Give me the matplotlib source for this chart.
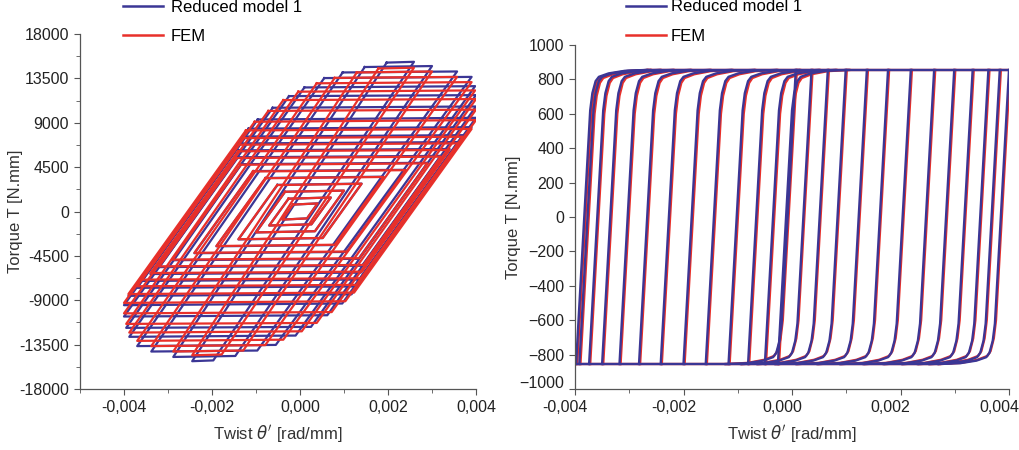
import numpy as np
import matplotlib.pyplot as plt
import matplotlib.transforms as mtransforms
from matplotlib.ticker import MultipleLocator, FixedLocator

plt.rcParams['font.family'] = ['Liberation Sans', 'DejaVu Sans']
plt.rcParams['mathtext.fontset'] = 'dejavusans'

blue = '#3b3695'
red = '#e8302a'

# --------------------------------------
# left panel : hysteresis loops
# each loop : top-left (tl), top-right (tr) corner, bottom-left twist (bl_x)
# bottom-right corner = -(tl), bottom-left torque = -(tr torque)
# --------------------------------------
blue_tl_x = [-0.00016, -0.00026, -0.00034, -0.00051, -0.00078, -0.00106, -0.00133, -0.00141, -0.00138, -0.00135,
             -0.00123, -0.00117, -0.00096, -0.00062, -0.00025, 0.00010, 0.00055, 0.00097, 0.00147, 0.00197]
blue_tl_T = [700, 1300, 2000, 2700, 3400, 4100, 4800, 5500, 6200, 6900,
             7600, 8400, 9330, 10520, 11700, 12580, 13530, 14100, 14650, 15100]
blue_tr_x = [0.00040, 0.00070, 0.00100, 0.00140, 0.00190, 0.00240, 0.00290, 0.00320, 0.00340, 0.00360,
             0.00370, 0.00390, 0.00400, 0.00400, 0.00400, 0.00398, 0.00390, 0.00357, 0.00300, 0.00259]
blue_tr_T = [820, 1420, 2120, 2830, 3530, 4230, 4940, 5640, 6340, 7040,
             7740, 8550, 9500, 10650, 11800, 12710, 13650, 14200, 14750, 15180]
blue_bl_x = [-0.00040, -0.00070, -0.00100, -0.00140, -0.00190, -0.00240, -0.00290, -0.00320, -0.00340, -0.00360,
             -0.00370, -0.00390, -0.00400, -0.00400, -0.00395, -0.00388, -0.00370, -0.00338, -0.00288, -0.00245]

red_tl_x = [-0.00016, -0.00026, -0.00034, -0.00052, -0.00079, -0.00107, -0.00135, -0.00144, -0.00141, -0.00139,
            -0.00128, -0.00123, -0.00103, -0.00072, -0.00038, -0.00004, 0.00038, 0.00079, 0.00129, 0.00178]
red_tl_T = [700, 1300, 2000, 2680, 3370, 4060, 4740, 5420, 6100, 6770,
            7440, 8220, 9100, 10200, 11300, 12150, 13000, 13550, 14100, 14500]
red_tr_x = [0.00040, 0.00070, 0.00100, 0.00140, 0.00190, 0.00240, 0.00290, 0.00320, 0.00340, 0.00360,
            0.00370, 0.00390, 0.00400, 0.00400, 0.00400, 0.00398, 0.00390, 0.00357, 0.00300, 0.00259]
red_tr_T = [820, 1420, 2120, 2810, 3500, 4190, 4880, 5560, 6240, 6910,
            7580, 8370, 9270, 10330, 11400, 12280, 13120, 13650, 14200, 14580]
red_bl_x = [-0.00040, -0.00070, -0.00100, -0.00140, -0.00190, -0.00240, -0.00290, -0.00320, -0.00340, -0.00360,
            -0.00370, -0.00390, -0.00400, -0.00400, -0.00395, -0.00388, -0.00370, -0.00338, -0.00288, -0.00245]

# --------------------------------------
# right panel : nearly rectangular loops
# --------------------------------------
T_sat = 855
# twist where the loading branches start (bottom, left half)
blue_up_x = [-0.00398, -0.00392, -0.00374, -0.00350, -0.00318, -0.00282, -0.00242,
             -0.00200, -0.00159, -0.00117, -0.00081, -0.00050, -0.00026]
# twist where the unloading branches start (top, right half)
blue_down_x = [0.00400, 0.00383, 0.00362, 0.00333, 0.00299, 0.00262, 0.00219,
               0.00177, 0.00138, 0.00099, 0.00066, 0.00036, 0.00007]
red_up_x = [-0.00396, -0.00390, -0.00372, -0.00348, -0.00316, -0.00280, -0.00240,
            -0.00198, -0.00157, -0.00115, -0.00079, -0.00048, -0.00024]
red_down_x = [0.00402, 0.00385, 0.00364, 0.00335, 0.00301, 0.00264, 0.00221,
              0.00179, 0.00140, 0.00101, 0.00068, 0.00038, 0.00009]
# shape of one branch (offset in twist vs torque)
knee_T = [-855, 620, 720, 790, 815, 835, 850, 855]
knee_dx = [0, 0.00026, 0.00030, 0.00036, 0.00042, 0.00060, 0.00090, 0.00130]
red_knee_T = [-855, 600, 705, 780, 808, 830, 848, 855]


def draw_loops(ax, tl_x, tl_T, tr_x, tr_T, bl_x, color):
    for i in range(len(tl_x)):
        xs = [tl_x[i], tr_x[i], -tl_x[i], bl_x[i], tl_x[i]]
        ys = [tl_T[i], tr_T[i], -tl_T[i], -tr_T[i], tl_T[i]]
        ax.plot(xs, ys, color=color, lw=1.6, solid_joinstyle='round')


def draw_branches(ax, up_x, down_x, kT, color):
    for x0 in up_x:
        ax.plot(x0 + np.array(knee_dx), kT, color=color, lw=1.7)
    for x0 in down_x:
        ax.plot(x0 - np.array(knee_dx), -np.array(kT), color=color, lw=1.7)
    # saturated plateaus
    ax.plot([up_x[0] + knee_dx[-1], down_x[0]], [T_sat, T_sat], color=color, lw=1.7)
    ax.plot([down_x[0] - knee_dx[-1], up_x[0]], [-T_sat, -T_sat], color=color, lw=1.7)


fig = plt.figure(figsize=(10.19, 4.5), dpi=100)
ax1 = fig.add_axes([80 / 1019, 1 - 389 / 450, 396 / 1019, 355 / 450])
ax2 = fig.add_axes([575 / 1019, 1 - 389 / 450, 434 / 1019, 344 / 450])

# left plot
draw_loops(ax1, blue_tl_x, blue_tl_T, blue_tr_x, blue_tr_T, blue_bl_x, blue)
draw_loops(ax1, red_tl_x, red_tl_T, red_tr_x, red_tr_T, red_bl_x, red)
ax1.set_xlim(-0.005, 0.004)
ax1.set_ylim(-18000, 18000)
y1_ticks = [-18000, -13500, -9000, -4500, 0, 4500, 9000, 13500, 18000]
ax1.yaxis.set_major_locator(FixedLocator(y1_ticks))
ax1.set_yticklabels([str(v) for v in y1_ticks])
ax1.yaxis.set_minor_locator(MultipleLocator(2250))
ax1.set_ylabel('Torque T [N.mm]', fontsize=12)
ax1.yaxis.set_label_coords(-0.145, 0.5)

# right plot
draw_branches(ax2, red_up_x, red_down_x, red_knee_T, red)
draw_branches(ax2, blue_up_x, blue_down_x, knee_T, blue)
ax2.set_xlim(-0.004, 0.004)
ax2.set_ylim(-1000, 1000)
y2_ticks = list(range(-1000, 1001, 200))
ax2.yaxis.set_major_locator(FixedLocator(y2_ticks))
ax2.set_yticklabels([str(v).replace('-', '\u2212') for v in y2_ticks])
ax2.set_ylabel('Torque T [N.mm]', fontsize=12)
ax2.yaxis.set_label_coords(-0.124, 0.5)

x_ticks = [-0.004, -0.002, 0.0, 0.002, 0.004]
x_labels = ['-0,004', '-0,002', '0,000', '0,002', '0,004']
for ax in (ax1, ax2):
    ax.xaxis.set_major_locator(FixedLocator(x_ticks))
    ax.set_xticklabels(x_labels)
    ax.xaxis.set_minor_locator(MultipleLocator(0.001))
    ax.spines['top'].set_visible(False)
    ax.spines['right'].set_visible(False)
    for s in ('left', 'bottom'):
        ax.spines[s].set_color('#555555')
        ax.spines[s].set_linewidth(0.9)
    ax.tick_params(which='both', direction='out', colors='#555555', labelcolor='#222222', labelsize=11.5)
    ax.tick_params(which='major', length=4, pad=4)
    ax.tick_params(which='minor', length=3)
    ax.set_xlabel("Twist $\\theta'$ [rad/mm]", fontsize=12, color='#333333', labelpad=6)
    ax.yaxis.label.set_color('#333333')
    ax.plot([], [], color=blue, lw=1.8, label='Reduced model 1')
    ax.plot([], [], color=red, lw=1.8, label='FEM')

# right panel tick labels sit a bit to the left in the original
shift = mtransforms.ScaledTranslation(-10 / 100, 0, fig.dpi_scale_trans)
for lab in ax2.get_xticklabels():
    lab.set_transform(lab.get_transform() + shift)
up = mtransforms.ScaledTranslation(0, 7 / 100, fig.dpi_scale_trans)
lab0 = ax2.get_yticklabels()[0]
lab0.set_transform(lab0.get_transform() + up)

ax1.legend(handles=ax1.lines[-2:], loc='upper left', bbox_to_anchor=(0.092, 1.115), frameon=False,
           fontsize=12, handlelength=2.4, handletextpad=0.45, labelspacing=0.85, borderaxespad=0)
ax2.legend(handles=ax2.lines[-2:], loc='upper left', bbox_to_anchor=(0.101, 1.152), frameon=False,
           fontsize=12, handlelength=2.4, handletextpad=0.3, labelspacing=0.85, borderaxespad=0)

plt.savefig('out.png', dpi=100)
